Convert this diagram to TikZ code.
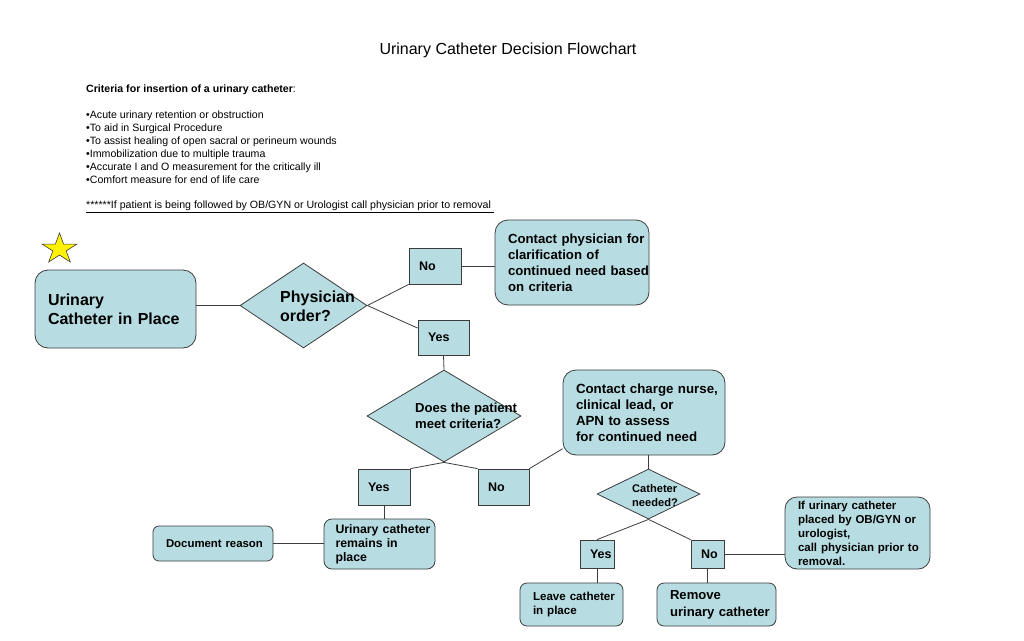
\documentclass[tikz,border=0pt]{standalone}
\usepackage{fontspec}
\setmainfont{Liberation Sans}
\usetikzlibrary{shapes.geometric}
\definecolor{boxblue}{RGB}{183,221,226}
\definecolor{edgegray}{RGB}{60,60,60}
\newcommand{\boxfont}[2]{\fontsize{#1}{#2}\selectfont\bfseries}
\newcommand{\nobreaks}{\rightskip=0pt plus 1fil minus 1000pt\relax}
\tikzset{
  rbox/.style={draw=edgegray, fill=boxblue, line width=0.8pt, rounded corners=#1, inner xsep=13pt, inner ysep=0pt, align=left, execute at begin node=\nobreaks},
  rbox/.default=13pt,
  ynbox/.style={draw=edgegray, fill=boxblue, line width=0.8pt, inner xsep=10pt, inner ysep=0pt, align=left, font=\boxfont{12.5}{15}},
  qdiam/.style={diamond, draw=edgegray, fill=boxblue, line width=0.8pt, inner sep=0pt},
  qtext/.style={inner sep=0pt, align=left, anchor=west},
  link/.style={draw=edgegray, line width=0.8pt}
}
\begin{document}
\begin{tikzpicture}[x=1pt,y=-1pt]
\useasboundingbox (0,0) rectangle (1024,640);
\node[font=\fontsize{16}{19}\selectfont] (title) at (508,50) {Urinary Catheter Decision Flowchart};
\node[anchor=north west, inner sep=0pt, align=left, font=\fontsize{10.6}{13}\selectfont] (criteria) at (86,85) {\textbf{Criteria for insertion of a urinary catheter}:\\[13pt]
•Acute urinary retention or obstruction\\
•To aid in Surgical Procedure\\
•To assist healing of open sacral or perineum wounds\\
•Immobilization due to multiple trauma\\
•Accurate I and O measurement for the critically ill\\
•Comfort measure for end of life care\\[12pt]
\underline{******If patient is being followed by OB/GYN or Urologist call physician prior to removal\ }};
\draw[fill=yellow, draw=edgegray, line width=0.6pt, shift={(59.5,249)}, yscale=0.87] (-90:18.4) \foreach \a in {-54,18,90,162,234} {-- (\a:7) -- ({\a+36}:18.4)} -- cycle;
\node[rbox, text width=135pt, minimum height=78pt, font=\boxfont{16}{19}] (start) at (115.5,309) {Urinary\\Catheter in Place};
\node[qdiam, minimum width=127pt, minimum height=85pt] (phys) at (303.5,305.5) {};
\node[qtext, font=\boxfont{16}{19}] (physq) at (280,306.5) {Physician\\order?};
\node[ynbox, text width=32pt, minimum height=36pt] (no1) at (435,266) {No};
\node[ynbox, text width=31pt, minimum height=35pt] (yes1) at (443.5,337.5) {Yes};
\node[rbox, text width=128pt, minimum height=85pt, font=\boxfont{13.2}{16}] (contact) at (572,262.5) {Contact physician for\\clarification of\\continued need based\\on criteria};
\node[qdiam, minimum width=154pt, minimum height=92pt] (crit) at (444,416) {};
\node[qtext, font=\boxfont{13.1}{16}] (critq) at (415,416) {Does the patient\\meet criteria?};
\node[ynbox, text width=32pt, minimum height=36pt] (yes2) at (384,487) {Yes};
\node[ynbox, text width=31pt, minimum height=36pt] (no2) at (503.5,487) {No};
\node[rbox, text width=136pt, minimum height=85pt, font=\boxfont{13.3}{16}] (charge) at (644,412.5) {Contact charge nurse,\\clinical lead, or\\APN to assess\\for continued need};
\node[qdiam, minimum width=103pt, minimum height=50pt] (need) at (648.5,494) {};
\node[qtext, font=\boxfont{11.1}{14}] (needq) at (632,496) {Catheter\\needed?};
\node[ynbox, text width=14pt, minimum height=28pt] (yes3) at (597,554) {Yes};
\node[ynbox, text width=13pt, minimum height=28pt] (no3) at (707.5,554) {No};
\node[rbox=7pt, text width=77pt, minimum height=43pt, font=\boxfont{11.6}{14}] (leave) at (571.5,604.5) {Leave catheter\\in place};
\node[rbox=7pt, text width=93pt, minimum height=43pt, font=\boxfont{13.1}{17}] (remove) at (716.5,604.5) {Remove\\urinary catheter};
\node[rbox=12pt, text width=119pt, minimum height=72pt, font=\boxfont{11.5}{14}] (ifuro) at (857.5,533) {If urinary catheter\\placed by OB/GYN or\\urologist,\\call physician prior to\\removal.};
\node[rbox=8pt, text width=88pt, minimum height=50pt, inner xsep=11.5pt, font=\boxfont{12.3}{14}] (remains) at (379.5,544) {Urinary catheter\\remains in\\place};
\node[rbox=6pt, text width=94pt, minimum height=35pt, font=\boxfont{11.4}{14}] (docr) at (213,543.5) {Document reason};
\draw[link] (start.east |- phys.west) -- (phys.west);
\draw[link] (phys.east) -- (no1.south west);
\draw[link] (phys.east) -- (yes1.160);
\draw[link] (no1.east) -- (no1.east -| contact.west);
\draw[link] (yes1.south) -- (crit.north);
\draw[link] (crit.south) -- (yes2.north east);
\draw[link] (crit.south) -- (no2.north west);
\draw[link] (no2.north east) -- (charge.204);
\draw[link] (need.north) -- (need.north |- charge.south);
\draw[link] (need.south) -- (yes3.north);
\draw[link] (need.south) -- (no3.north west);
\draw[link] (yes3.south) -- (yes3.south |- leave.north);
\draw[link] (no3.south) -- (no3.south |- remove.north);
\draw[link] (no3.east) -- (no3.east -| ifuro.west);
\draw[link] (yes2.south) -- (yes2.south |- remains.north);
\draw[link] (docr.east) -- (docr.east -| remains.west);
\end{tikzpicture}
\end{document}
